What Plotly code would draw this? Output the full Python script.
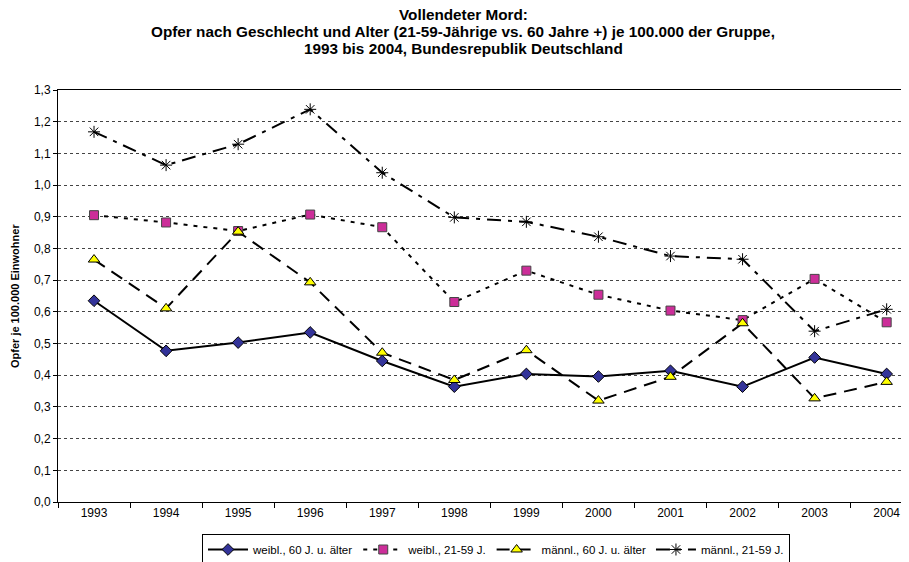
import plotly.graph_objects as go

years = ["1993", "1994", "1995", "1996", "1997", "1998",
         "1999", "2000", "2001", "2002", "2003", "2004"]

# Opfer je 100.000 der Gruppe
weibl_60 = [0.635, 0.477, 0.503, 0.535, 0.445, 0.364, 0.404, 0.396, 0.414, 0.364, 0.456, 0.404]
weibl_21_59 = [0.905, 0.882, 0.855, 0.907, 0.867, 0.631, 0.730, 0.654, 0.604, 0.574, 0.704, 0.567]
maennl_60 = [0.765, 0.611, 0.853, 0.693, 0.471, 0.385, 0.479, 0.320, 0.395, 0.564, 0.327, 0.379]
maennl_21_59 = [1.168, 1.063, 1.129, 1.239, 1.039, 0.898, 0.884, 0.837, 0.776, 0.766, 0.539, 0.608]

title_lines = [
    "Vollendeter Mord:",
    "Opfer nach Geschlecht und Alter (21-59-Jährige vs. 60 Jahre +) je 100.000 der Gruppe,",
    "1993 bis 2004, Bundesrepublik Deutschland",
]

FONT = "Liberation Sans, Arial, sans-serif"
# the page body has an 8px margin, so the figure is drawn 8px in from the top-left
OFF = 8
W, H = 909 - OFF, 562 - OFF

fig = go.Figure()

fig.add_trace(go.Scatter(
    x=years, y=weibl_60, name="weibl., 60 J. u. älter", mode="lines+markers",
    line=dict(color="black", width=2),
    marker=dict(symbol="diamond", size=9, color="#333399", line=dict(color="black", width=1)),
))
fig.add_trace(go.Scatter(
    x=years, y=weibl_21_59, name="weibl., 21-59 J.", mode="lines+markers",
    line=dict(color="black", width=2, dash="4px,6px"),
    marker=dict(symbol="square", size=9, color="#CC2E99", line=dict(color="#444", width=1)),
))
fig.add_trace(go.Scatter(
    x=years, y=maennl_60, name="männl., 60 J. u. älter", mode="lines+markers",
    line=dict(color="black", width=2, dash="13px,8px"),
    marker=dict(symbol="triangle-up", size=10, color="#FFFF00", line=dict(color="black", width=1)),
))
fig.add_trace(go.Scatter(
    x=years, y=maennl_21_59, name="männl., 21-59 J.", mode="lines+markers",
    line=dict(color="black", width=2, dash="14px,7px,4px,7px"),
    marker=dict(symbol="asterisk-open", size=10, color="black", line=dict(color="black", width=1)),
))

for i, txt in enumerate(title_lines):
    fig.add_annotation(
        text=f"<b>{txt}</b>", xref="paper", yref="paper",
        x=(463 - 58) / 851, y=(502 - (14.5 + 17 * i)) / 412,
        xanchor="center", yanchor="middle", showarrow=False, borderpad=0,
        font=dict(family=FONT, size=15.3, color="black"),
    )

fig.add_annotation(
    text="<b>Opfer je 100.000 Einwohner</b>", xref="paper", yref="paper",
    x=(15 - 58) / 851, y=0.5, xanchor="center", yanchor="middle",
    textangle=-90, showarrow=False,
    font=dict(family=FONT, size=11, color="black"),
)

fig.update_layout(
    width=W, height=H,
    margin=dict(l=58 - OFF, r=0, t=90 - OFF, b=H - (502 - OFF), autoexpand=False),
    paper_bgcolor="white", plot_bgcolor="white",
    font=dict(family=FONT, size=12, color="black"),
    separators=",.",
    showlegend=True,
    legend=dict(
        orientation="h", x=(496 - 58) / 851, xanchor="center",
        yref="container", y=1 - (534 - OFF) / H, yanchor="top",
        bordercolor="black", borderwidth=1, bgcolor="white",
        font=dict(family=FONT, size=11.5, color="black"),
        itemwidth=40, tracegroupgap=0,
    ),
    xaxis=dict(
        type="category", range=[-0.5, 11.31], automargin=False,
        showline=True, linecolor="black", linewidth=1, mirror=True,
        ticks="outside", ticklen=5, tickcolor="black", tickson="boundaries",
        showgrid=False, tickfont=dict(size=12),
    ),
    yaxis=dict(
        range=[0, 1.3], dtick=0.1, tickformat=".1f", automargin=False,
        showline=True, linecolor="black", linewidth=1,
        ticks="outside", ticklen=4, tickcolor="black",
        showgrid=True, gridcolor="#444", gridwidth=1, griddash="3px,3px",
        zeroline=False, tickfont=dict(size=12),
    ),
)

fig.write_html("out.html")
